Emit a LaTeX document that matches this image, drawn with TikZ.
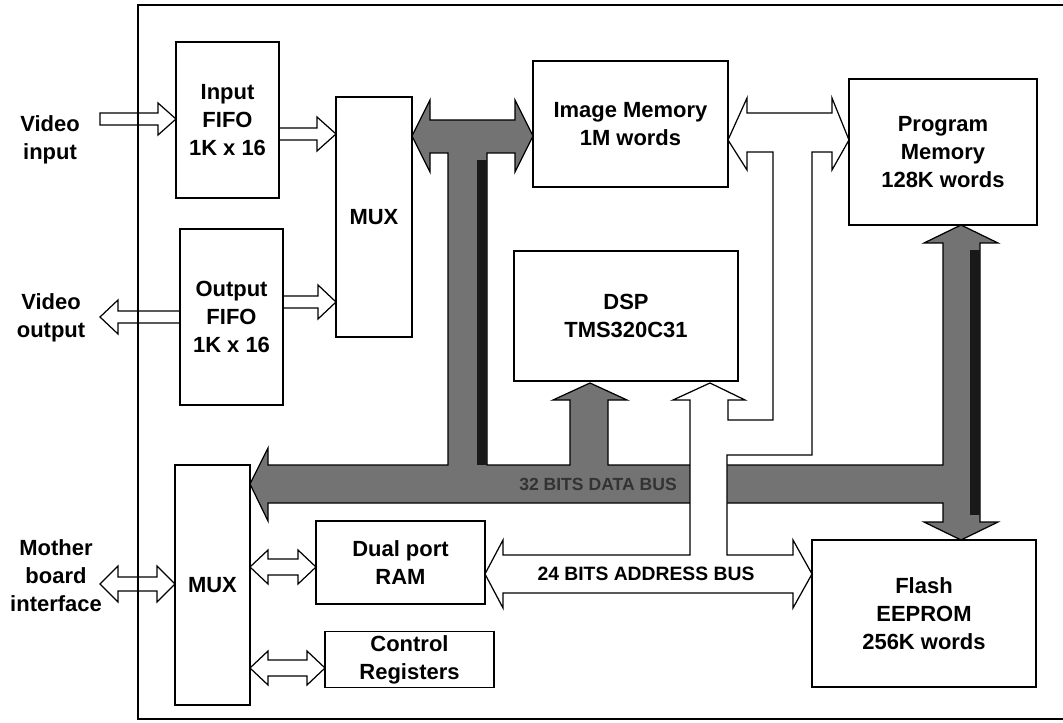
\documentclass[tikz,border=0pt]{standalone}
\usepackage{fontspec}
\setmainfont{Liberation Sans}

\begin{document}
\begin{tikzpicture}[x=0.02cm, y=-0.02cm,
  font=\bfseries\fontsize{12.5}{16}\selectfont,
  unitbox/.style={draw, fill=white, align=center, inner sep=2pt, line width=0.8pt},
  sidelabel/.style={align=center},
  hollowbus/.style={draw, fill=white, line width=0.7pt, line join=miter},
  databus/.style={draw=black, fill=black!55, line width=0.7pt},
  busshade/.style={fill=black!90},
  frameline/.style={line width=0.6pt}
]
\useasboundingbox (0,0) rectangle (1063,723);

% 32-bit data bus (grey, drawn first)
\draw[databus] (250,484) -- (268,448) -- (268,465) -- (448,465) -- (448,153)
  -- (430,153) -- (430,172) -- (412,136) -- (430,100) -- (430,120) -- (515,120)
  -- (515,100) -- (533,136) -- (515,172) -- (515,153) -- (487,153) -- (487,465)
  -- (570,465) -- (570,400) -- (553,400) -- (590,383) -- (627,400) -- (608,400)
  -- (608,465) -- (943,465) -- (943,243) -- (924,243) -- (961,225) -- (998,243)
  -- (980,243) -- (980,522) -- (998,522) -- (961,540) -- (924,522) -- (943,522)
  -- (943,503) -- (268,503) -- (268,521) -- cycle;
\fill[busshade] (477,160) rectangle (487,465);
\fill[busshade] (970,250) rectangle (980,515);
\node[font=\bfseries\fontsize{10}{12}\selectfont, text=black!80] (dbuslabel) at (598,484) {32 BITS DATA BUS};

% 24-bit address bus (hollow, passes over the data bus)
\draw[hollowbus] (485,574) -- (503,540) -- (503,555) -- (690,555) -- (690,400)
  -- (673,400) -- (710,383) -- (745,400) -- (728,400) -- (728,420) -- (773,420)
  -- (773,152) -- (747,152) -- (747,170) -- (728,140) -- (747,98) -- (747,113)
  -- (832,113) -- (832,98) -- (849,140) -- (832,170) -- (832,152) -- (812,152)
  -- (812,455) -- (727,455) -- (727,555) -- (793,555) -- (793,540) -- (812,574)
  -- (793,608) -- (793,593) -- (503,593) -- (503,608) -- cycle;
\node[font=\bfseries\fontsize{11}{13}\selectfont] (abuslabel) at (646,574) {24 BITS ADDRESS BUS};

% single links
\draw[hollowbus] (100,113) -- (158,113) -- (158,103) -- (176,119) -- (158,135)
  -- (158,125) -- (100,125) -- cycle;
\draw[hollowbus] (180,311) -- (118,311) -- (118,300) -- (100,317) -- (118,334)
  -- (118,323) -- (180,323) -- cycle;
\draw[hollowbus] (279,128) -- (317,128) -- (317,117) -- (336,134) -- (317,151)
  -- (317,140) -- (279,140) -- cycle;
\draw[hollowbus] (283,296) -- (318,296) -- (318,285) -- (336,302) -- (318,319)
  -- (318,308) -- (283,308) -- cycle;
\draw[hollowbus] (100,584) -- (118,566) -- (118,577) -- (157,577) -- (157,566)
  -- (175,584) -- (157,602) -- (157,591) -- (118,591) -- (118,602) -- cycle;
\draw[hollowbus] (250,567) -- (268,550) -- (268,559) -- (298,559) -- (298,550)
  -- (316,567) -- (298,584) -- (298,575) -- (268,575) -- (268,584) -- cycle;
\draw[hollowbus] (250,668) -- (268,651) -- (268,660) -- (307,660) -- (307,651)
  -- (325,668) -- (307,685) -- (307,676) -- (268,676) -- (268,685) -- cycle;

% units
\node[unitbox, minimum width=2.06cm, minimum height=3.12cm] (ififo) at (227.5,120) {Input\\FIFO\\1K x 16};
\node[unitbox, minimum width=2.06cm, minimum height=3.52cm] (ofifo) at (231.5,317) {Output\\FIFO\\1K x 16};
\node[unitbox, minimum width=1.52cm, minimum height=4.8cm] (muxa) at (374,217) {MUX};
\node[unitbox, minimum width=3.9cm, minimum height=2.52cm] (imem) at (630.5,124) {Image Memory\\1M words};
\node[unitbox, minimum width=3.76cm, minimum height=2.92cm] (pmem) at (943,152) {Program\\Memory\\128K words};
\node[unitbox, minimum width=4.48cm, minimum height=2.6cm] (dsp) at (626,316) {DSP\\TMS320C31};
\node[unitbox, minimum width=1.5cm, minimum height=4.8cm] (muxb) at (212.5,585) {MUX};
\node[unitbox, minimum width=3.38cm, minimum height=1.66cm] (dpram) at (400.5,562.5) {Dual port\\RAM};
\node[unitbox, minimum width=3.38cm, minimum height=1.1cm] (creg) at (409.5,659.5) {Control\\Registers};
\node[unitbox, minimum width=4.48cm, minimum height=2.94cm] (flash) at (924,613.5) {Flash\\EEPROM\\256K words};

% outside signals
\node[sidelabel] (vin) at (50,140) {Video\\input};
\node[sidelabel] (vout) at (51,318) {Video\\output};
\node[sidelabel] (mbi) at (56,576) {Mother\\board\\interface};

% board outline
\draw[frameline] (1063,5) -- (138,5) -- (138,719) -- (1063,719);
\end{tikzpicture}
\end{document}
